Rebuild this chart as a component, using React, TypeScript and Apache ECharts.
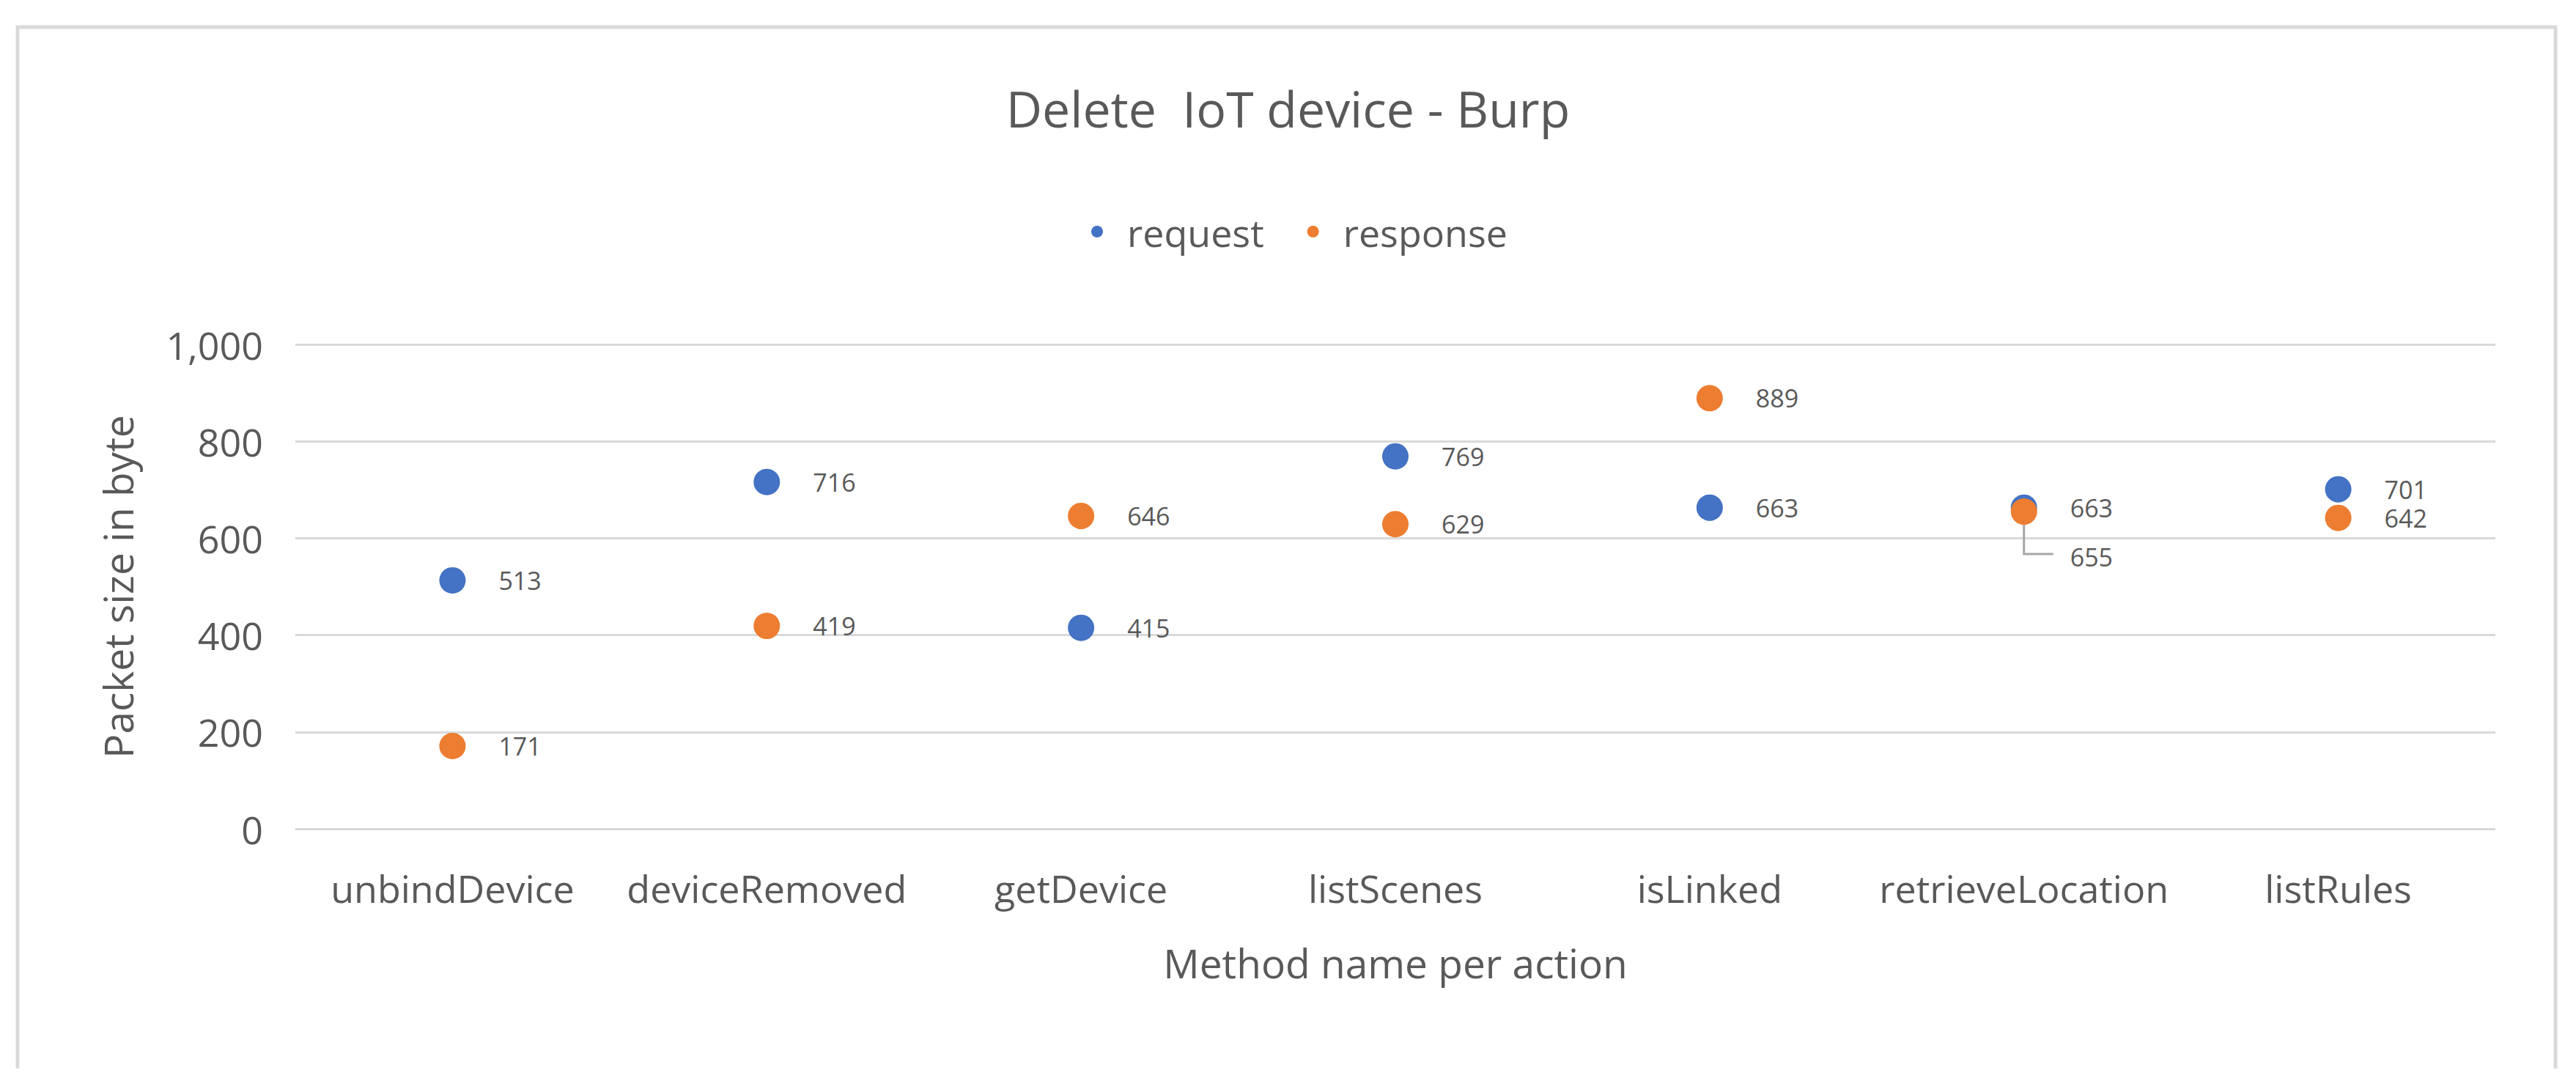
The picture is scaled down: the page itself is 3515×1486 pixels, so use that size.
import React, { useEffect, useRef } from "react";
import * as echarts from "echarts";

const categories = [
  "unbindDevice",
  "deviceRemoved",
  "getDevice",
  "listScenes",
  "isLinked",
  "retrieveLocation",
  "listRules",
];
const requestValues = [513, 716, 415, 769, 663, 663, 701];
const responseValues = [171, 419, 646, 629, 889, 655, 642];
const seriesNames = ["request", "response"];
const yMin = 0;
const yMax = 1000;
const yInterval = 200;
const titleText = "Delete  IoT device - Burp";
const xAxisName = "Method name per action";
const yAxisName = "Packet size in byte";

const FONT = "'Open Sans', 'Noto Sans', sans-serif";
const TEXT = "#595959";
const GRID = "#d9d9d9";
const BLUE = "#4472C4";
const ORANGE = "#ED7D31";
const W = 3515;
const H = 1486;

const borderGraphic = {
  id: "border",
  type: "polyline",
  silent: true,
  shape: {
    points: [
      [24, 1458],
      [24, 37],
      [3487, 37],
      [3487, 1458],
    ],
  },
  style: { stroke: GRID, lineWidth: 5, fill: "none" },
};

export default function App() {
  const ref = useRef<HTMLDivElement>(null);
  useEffect(() => {
    if (!ref.current) return;
    const chart = echarts.init(ref.current, null, { renderer: "svg" });
    const labelBase = {
      show: true,
      position: "right",
      distance: 45,
      color: TEXT,
      fontFamily: FONT,
      fontSize: 34,
      lineHeight: 36,
    };
    const leaderIndex = 5;
    const option: any = {
      animation: false,
      backgroundColor: "#ffffff",
      textStyle: { fontFamily: FONT },
      title: {
        text: titleText,
        left: "center",
        top: 108,
        textStyle: { color: TEXT, fontSize: 68, fontWeight: "normal", fontFamily: FONT },
      },
      legend: {
        data: seriesNames,
        left: 1489,
        top: 290,
        padding: 0,
        itemWidth: 16,
        itemHeight: 16,
        itemGap: 59,
        icon: "circle",
        itemStyle: { opacity: 1 },
        textStyle: { color: TEXT, fontSize: 52, fontFamily: FONT, padding: [0, 0, 0, 28] },
      },
      grid: { left: 403, right: W - 3405, top: 470, bottom: H - 1131 },
      xAxis: {
        type: "category",
        data: categories,
        boundaryGap: true,
        axisLine: { show: false },
        axisTick: { show: false },
        axisLabel: { color: TEXT, fontSize: 52, fontFamily: FONT, margin: 54, interval: 0 },
        name: xAxisName,
        nameLocation: "middle",
        nameGap: 155,
        nameTextStyle: { color: TEXT, fontSize: 55, fontFamily: FONT },
      },
      yAxis: {
        type: "value",
        min: yMin,
        max: yMax,
        interval: yInterval,
        axisLine: { show: false },
        axisTick: { show: false },
        splitLine: { lineStyle: { color: GRID, width: 3 } },
        axisLabel: {
          color: TEXT,
          fontSize: 52,
          fontFamily: FONT,
          margin: 44,
          formatter: (v: number) => v.toLocaleString("en-US"),
        },
        name: yAxisName,
        nameLocation: "middle",
        nameGap: 215,
        nameTextStyle: { color: TEXT, fontSize: 55, fontFamily: FONT },
      },
      series: [
        {
          name: seriesNames[0],
          type: "scatter",
          symbol: "circle",
          symbolSize: 36,
          itemStyle: { color: BLUE, opacity: 1 },
          label: labelBase,
          data: requestValues,
        },
        {
          name: seriesNames[1],
          type: "scatter",
          symbol: "circle",
          symbolSize: 36,
          itemStyle: { color: ORANGE, opacity: 1 },
          label: labelBase,
          data: responseValues.map((v, i) =>
            i === leaderIndex ? { value: v, label: { offset: [0, 62] } } : v
          ),
        },
      ],
      graphic: [borderGraphic],
    };
    chart.setOption(option);
    const p = chart.convertToPixel({ seriesIndex: 1 }, [leaderIndex, responseValues[leaderIndex]]) as number[];
    if (p) {
      chart.setOption({
        graphic: [
          borderGraphic,
          {
            id: "leader",
            type: "polyline",
            silent: true,
            z: 1,
            shape: {
              points: [
                [p[0], p[1] + 18],
                [p[0], p[1] + 58],
                [p[0] + 40, p[1] + 58],
              ],
            },
            style: { stroke: "#a6a6a6", lineWidth: 3, fill: "none" },
          },
        ],
      });
    }
    return () => chart.dispose();
  }, []);
  return (
    <div
      ref={ref}
      style={{ position: "absolute", left: 0, top: 0, width: W, height: H }}
    />
  );
}
